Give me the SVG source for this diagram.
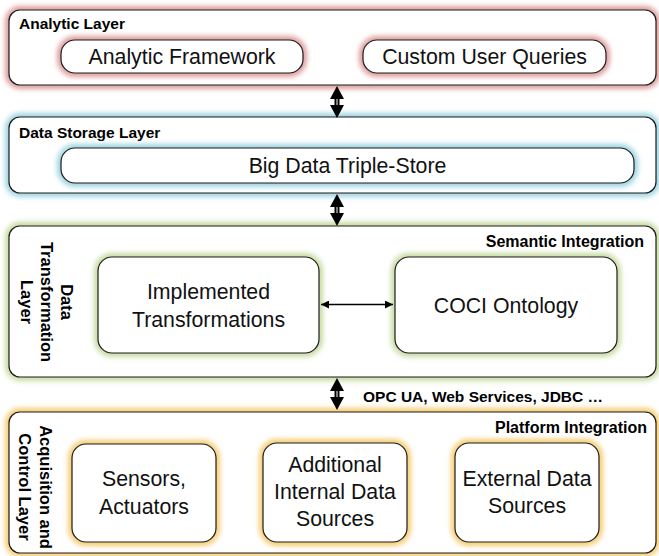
<svg xmlns="http://www.w3.org/2000/svg" width="659" height="556" viewBox="0 0 659 556">
<style>
.box{fill:#fff;stroke:#1a1a1a;stroke-width:1.2}
.glow{fill:none;stroke-width:8;filter:url(#blur)}
.red{stroke:#dd9e9c}
.blue{stroke:#9fd5e2}
.green{stroke:#c8dba3}
.gold{stroke:#f6cc72}
.lbl{font-family:"Liberation Sans",Arial,sans-serif;font-weight:bold;font-size:15.5px;fill:#000}
.rot{font-size:16.5px;text-anchor:middle}
.txt{font-family:"Liberation Sans",Arial,sans-serif;font-size:21.3px;fill:#111;text-anchor:middle}
.conn{stroke:#000;stroke-width:1.5;fill:none}
</style>
<defs>
<filter id="blur" x="-10%" y="-30%" width="120%" height="160%"><feGaussianBlur stdDeviation="2.4"/></filter>
<marker id="ah" viewBox="0 0 10 10" refX="10" refY="5" markerWidth="8" markerHeight="8" markerUnits="userSpaceOnUse" orient="auto-start-reverse"><path d="M0,0 L10,5 L0,10 z" fill="#000"/></marker>
<g id="dbl">
<path d="M0,0 L7,13 L2.5,13 L2.5,19 L7,19 L0,32 L-7,19 L-2.5,19 L-2.5,13 L-7,13 z" fill="#000"/>
<line x1="0" y1="13" x2="0" y2="19" stroke="#9a9a9a" stroke-width="1.6"/>
</g>
</defs>

<g id="analytic-layer">
<rect class="glow red" x="9" y="10" width="647" height="75" rx="11"/>
<rect class="box" x="9" y="10" width="647" height="75" rx="11"/>
<text class="lbl" x="19" y="29">Analytic Layer</text>
</g>
<g id="analytic-framework">
<rect class="glow red" x="61" y="40" width="242" height="33" rx="14"/>
<rect class="box" x="61" y="40" width="242" height="33" rx="14"/>
<text class="txt" x="182" y="64">Analytic Framework</text>
</g>
<g id="custom-user-queries">
<rect class="glow red" x="363" y="40" width="243" height="33" rx="14"/>
<rect class="box" x="363" y="40" width="243" height="33" rx="14"/>
<text class="txt" x="484.5" y="64">Custom User Queries</text>
</g>

<g id="data-storage-layer">
<rect class="glow blue" x="9" y="117" width="647" height="76" rx="11"/>
<rect class="box" x="9" y="117" width="647" height="76" rx="11"/>
<text class="lbl" x="19" y="138">Data Storage Layer</text>
</g>
<g id="triple-store">
<rect class="glow blue" x="61" y="148" width="573" height="35" rx="14"/>
<rect class="box" x="61" y="148" width="573" height="35" rx="14"/>
<text class="txt" x="347.5" y="173">Big Data Triple-Store</text>
</g>

<g id="data-transformation-layer">
<rect class="glow green" x="9" y="226" width="647" height="151" rx="11"/>
<rect class="box" x="9" y="226" width="647" height="151" rx="11"/>
<g transform="translate(61,302) rotate(90)">
<text class="lbl rot" x="0" y="0">Data</text>
<text class="lbl rot" x="0" y="20">Transformation</text>
<text class="lbl rot" x="0" y="40">Layer</text>
</g>
<text class="lbl" x="644" y="247" text-anchor="end" style="font-size:16px">Semantic Integration</text>
</g>
<g id="implemented-transformations">
<rect class="glow green" x="98" y="257" width="221" height="96" rx="14"/>
<rect class="box" x="98" y="257" width="221" height="96" rx="14"/>
<text class="txt" x="208.5" y="299">Implemented</text>
<text class="txt" x="208.5" y="327">Transformations</text>
</g>
<g id="coci-ontology">
<rect class="glow green" x="395" y="257" width="222" height="96" rx="14"/>
<rect class="box" x="395" y="257" width="222" height="96" rx="14"/>
<text class="txt" x="506" y="313">COCI Ontology</text>
</g>

<g id="acquisition-control-layer">
<rect class="glow gold" x="9" y="412" width="647" height="141" rx="11"/>
<rect class="box" x="9" y="412" width="647" height="141" rx="11"/>
<g transform="translate(40,487) rotate(90)">
<text class="lbl rot" x="0" y="0">Acquisition and</text>
<text class="lbl rot" x="0" y="21">Control Layer</text>
</g>
<text class="lbl" x="647" y="433" text-anchor="end" style="font-size:16px">Platform Integration</text>
</g>
<g id="sensors-actuators">
<rect class="glow gold" x="72" y="444" width="144" height="98" rx="14"/>
<rect class="box" x="72" y="444" width="144" height="98" rx="14"/>
<text class="txt" x="144" y="486">Sensors,</text>
<text class="txt" x="144" y="514">Actuators</text>
</g>
<g id="internal-data-sources">
<rect class="glow gold" x="263" y="443" width="144" height="99" rx="14"/>
<rect class="box" x="263" y="443" width="144" height="99" rx="14"/>
<text class="txt" x="335" y="472">Additional</text>
<text class="txt" x="335" y="499">Internal Data</text>
<text class="txt" x="335" y="526">Sources</text>
</g>
<g id="external-data-sources">
<rect class="glow gold" x="455" y="443" width="144" height="99" rx="14"/>
<rect class="box" x="455" y="443" width="144" height="99" rx="14"/>
<text class="txt" x="527" y="486">External Data</text>
<text class="txt" x="527" y="513">Sources</text>
</g>

<g id="connectors">
<use href="#dbl" x="337" y="86"/>
<use href="#dbl" x="337" y="194"/>
<use href="#dbl" x="337" y="378"/>
<line class="conn" x1="321" y1="304.5" x2="393" y2="304.5" marker-start="url(#ah)" marker-end="url(#ah)"/>
<text class="lbl" x="363" y="402">OPC UA, Web Services, JDBC …</text>
</g>
</svg>
